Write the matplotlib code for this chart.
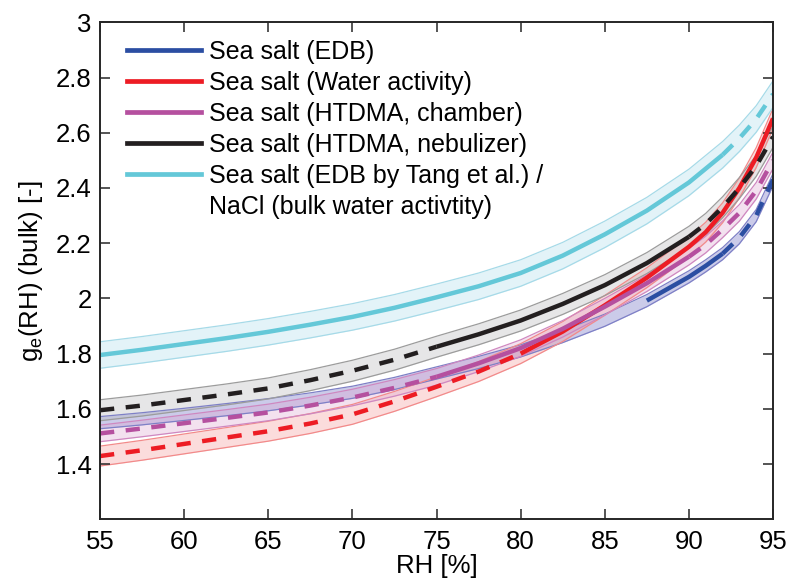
'''
    g_e(RH) bulk growth factor curves for sea salt / NaCl
'''

from matplotlib import pyplot as plt
from matplotlib.lines import Line2D
import numpy as np

plt.rcParams['font.family'] = ['Liberation Sans', 'DejaVu Sans']
plt.rcParams['mathtext.default'] = 'regular'

# RH grid [%]
rh = np.array([55, 57.5, 60, 62.5, 65, 67.5, 70, 72.5, 75, 77.5, 80,
               82.5, 85, 87.5, 90, 91, 92, 93, 94, 95])

# central curves
edb       = np.array([1.550, 1.564, 1.580, 1.597, 1.615, 1.636, 1.660, 1.692, 1.730, 1.768,
                      1.810, 1.862, 1.921, 1.992, 2.078, 2.118, 2.162, 2.220, 2.300, 2.430])
water_act = np.array([1.429, 1.450, 1.473, 1.496, 1.519, 1.547, 1.580, 1.627, 1.680, 1.735,
                      1.800, 1.880, 1.975, 2.075, 2.187, 2.240, 2.310, 2.400, 2.510, 2.652])
chamber   = np.array([1.511, 1.529, 1.548, 1.567, 1.587, 1.612, 1.641, 1.676, 1.716, 1.765,
                      1.820, 1.890, 1.970, 2.055, 2.151, 2.195, 2.250, 2.310, 2.390, 2.500])
nebulizer = np.array([1.595, 1.612, 1.632, 1.652, 1.674, 1.704, 1.738, 1.778, 1.825, 1.870,
                      1.920, 1.980, 2.048, 2.128, 2.223, 2.270, 2.330, 2.400, 2.480, 2.585])
tang      = np.array([1.795, 1.814, 1.835, 1.856, 1.879, 1.905, 1.933, 1.966, 2.004, 2.044,
                      2.092, 2.155, 2.232, 2.318, 2.420, 2.470, 2.520, 2.580, 2.650, 2.740])

# half width of the uncertainty band
edb_err       = 0.022
water_act_err = 0.036
chamber_err   = 0.030
nebulizer_err = 0.038
tang_err      = 0.048

# RH where the line is drawn from, and where it is solid (dashed outside)
edb_range       = (87.5, 87.5, 92)
water_act_range = (55, 80, 95)
chamber_range   = (55, 75, 90)
nebulizer_range = (55, 75, 90)
tang_range      = (55, 55, 92)

labels = ['Sea salt (EDB)',
          'Sea salt (Water activity)',
          'Sea salt (HTDMA, chamber)',
          'Sea salt (HTDMA, nebulizer)',
          'Sea salt (EDB by Tang et al.) /']
label_extra = 'NaCl (bulk water activtity)'

SERIES = [
    # curve, err, ranges, line colour, fill colour, fill alpha, edge colour
    (edb,       edb_err,       edb_range,       '#2b4ea2', '#8c8ccf', 0.45, '#7e80c6'),
    (water_act, water_act_err, water_act_range, '#ed1c24', '#f49c9c', 0.35, '#f28a8a'),
    (chamber,   chamber_err,   chamber_range,   '#b5509f', '#dba2cf', 0.32, '#cf88c0'),
    (nebulizer, nebulizer_err, nebulizer_range, '#231f20', '#b4b6b8', 0.33, '#9c9c9c'),
    (tang,      tang_err,      tang_range,      '#64c8d8', '#a8dcea', 0.32, '#a6dae8'),
]

LW = 3.2
DASH = (3.2, 2.6)


def main():
    fig = plt.figure(figsize=(7.88, 5.83), dpi=100)
    ax = fig.add_axes([0.127, 0.1093, 0.854, 0.8524])

    handles = []
    for curve, err, (start, s0, s1), lc, fc, fa, ec in SERIES:
        ax.fill_between(rh, curve - err, curve + err, color=fc, alpha=fa,
                        linewidth=0, zorder=1)
        ax.plot(rh, curve - err, color=ec, lw=0.9, zorder=1.5)
        ax.plot(rh, curve + err, color=ec, lw=0.9, zorder=1.5)

        lo = (rh >= start) & (rh <= s0)
        mid = (rh >= s0) & (rh <= s1)
        hi = rh >= s1
        for mask, solid in ((lo, False), (mid, True), (hi, False)):
            if mask.sum() < 2:
                continue
            if solid:
                ax.plot(rh[mask], curve[mask], color=lc, lw=LW,
                        solid_capstyle='butt', solid_joinstyle='round', zorder=2)
            else:
                ax.plot(rh[mask], curve[mask], color=lc, lw=LW,
                        dashes=DASH, dash_capstyle='butt', zorder=2)
        handles.append(Line2D([], [], color=lc, lw=3.4))

    handles.append(Line2D([], [], color='none', lw=0))
    ax.legend(handles, labels + [label_extra], loc='upper left',
              bbox_to_anchor=(0.04, 0.965), frameon=False, fontsize=18,
              handlelength=2.95, handletextpad=0.35, labelspacing=0.28,
              borderpad=0, borderaxespad=0)

    ax.set_xlim(55, 95)
    ax.set_ylim(1.2, 3.0)
    ax.set_xticks(np.arange(55, 96, 5))
    ax.set_yticks([1.4, 1.6, 1.8, 2.0, 2.2, 2.4, 2.6, 2.8, 3.0])
    ax.set_yticklabels(['1.4', '1.6', '1.8', '2', '2.2', '2.4', '2.6', '2.8', '3'])
    ax.tick_params(direction='in', length=7, width=1.1, labelsize=18.5,
                   top=True, right=True, color='#262626')
    ax.tick_params(axis='x', pad=8)
    ax.tick_params(axis='y', pad=6)
    for sp in ax.spines.values():
        sp.set_linewidth(1.4)
        sp.set_color('#262626')

    ax.set_xlabel('RH [%]', fontsize=18.5, labelpad=0)
    ax.set_ylabel('g$_e$(RH) (bulk) [-]', fontsize=18.5, labelpad=8)

    fig.savefig('out.png', dpi=100)
    plt.close(fig)


if __name__ == '__main__': main()
